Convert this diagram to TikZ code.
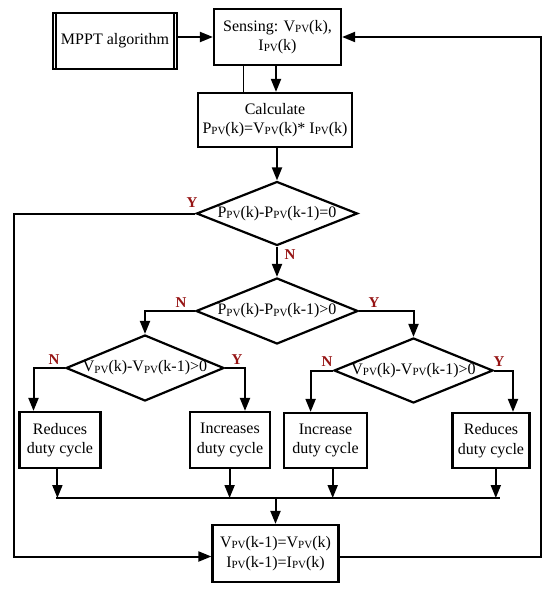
\documentclass[tikz,border=0pt]{standalone}
\usepackage{fontspec}
\setmainfont{Liberation Serif}
\usetikzlibrary{shapes.geometric,arrows.meta}
\definecolor{labred}{RGB}{150,20,20}
\newcommand{\pv}{\raisebox{-1.2pt}{\fontsize{11}{11}\selectfont PV}}
\begin{document}
\begin{tikzpicture}[x=1pt,y=-1pt, line width=2pt,
  box/.style={draw, rectangle, line width=2.2pt, inner sep=0pt, align=center, font=\fontsize{16}{19.5}\selectfont},
  dia/.style={draw, diamond, line width=2.2pt, inner sep=0pt, font=\fontsize{16}{19.5}\selectfont},
  arr/.style={-{Triangle[length=13pt,width=10pt]}},
  thinline/.style={line width=0.9pt},
  lab/.style={text=labred, font=\bfseries\fontsize{15}{15}\selectfont, inner sep=0pt}]
\useasboundingbox (0,0) rectangle (550,591);

% nodes
\node[box, minimum width=124pt, minimum height=56pt] (mppt) at (115,41) {MPPT algorithm};
\draw ([xshift=4pt]mppt.north west) -- ([xshift=4pt]mppt.south west);
\draw ([xshift=-4pt]mppt.north east) -- ([xshift=-4pt]mppt.south east);

\node[box, minimum width=127pt, minimum height=56pt] (sens) at (277.5,37) {Sensing: V\pv(k),\\I\pv(k)};
\node[box, minimum width=154pt, minimum height=54pt] (calc) at (275,120) {Calculate\\P\pv(k)=V\pv(k)* I\pv(k)};

\node[dia, minimum width=161pt, minimum height=64pt] (d1) at (277,213.5) {\makebox[0pt]{P\pv(k)-P\pv(k-1)=0}};
\node[dia, minimum width=162pt, minimum height=66pt] (d2) at (277,311) {\makebox[0pt]{P\pv(k)-P\pv(k-1)>0}};
\node[dia, minimum width=158pt, minimum height=66pt] (d3) at (145,368) {\makebox[0pt]{V\pv(k)-V\pv(k-1)>0}};
\node[dia, minimum width=159pt, minimum height=65pt] (d4) at (413.5,370.5) {\makebox[0pt]{V\pv(k)-V\pv(k-1)>0}};

\node[box, minimum width=81pt, minimum height=56pt] (b1) at (60,440) {Reduces\\duty cycle};
\node[box, minimum width=80pt, minimum height=56pt] (b2) at (230,440) {Increases\\duty cycle};
\node[box, minimum width=82.5pt, minimum height=55pt] (b3) at (325.5,440.5) {Increase\\duty cycle};
\node[box, minimum width=77pt, minimum height=55pt] (b4) at (491,440.5) {Reduces\\duty cycle};

\node[box, minimum width=126pt, minimum height=57pt] (last) at (275.5,553.5) {V\pv(k-1)=V\pv(k)\\I\pv(k-1)=I\pv(k)};

% labels
\node[lab] (y1) at (192,203) {Y};
\node[lab] (n1) at (290,255) {N};
\node[lab] (n2) at (181,303) {N};
\node[lab] (y2) at (374,303) {Y};
\node[lab] (n3) at (54,360) {N};
\node[lab] (y3) at (237,360) {Y};
\node[lab] (n4) at (327,362) {N};
\node[lab] (y4) at (499,362) {Y};

% helper coordinates
\coordinate (axis) at (276,0);
\coordinate (thin) at (243,0);
\coordinate (lft) at (14,0);
\coordinate (rgt) at (541,0);
\coordinate (c1) at (33.5,0);
\coordinate (c2) at (245,0);
\coordinate (c3) at (310.6,0);
\coordinate (c4) at (513,0);
\coordinate (busL) at (56,498);
\coordinate (busR) at (499.5,498);
\coordinate (e1) at (57.4,0);
\coordinate (e2) at (229.6,0);
\coordinate (e3) at (332.7,0);
\coordinate (e4) at (495.8,0);
\coordinate (lin) at ([yshift=-3pt]last.west);
\coordinate (rin) at ([yshift=-3pt]last.east);

% connectors
\draw[arr] (mppt.east |- sens.west) -- (sens.west);
\draw[arr] (sens.south -| axis) -- (calc.north -| axis);
\draw[thinline] (sens.south -| thin) -- (calc.north -| thin);
\draw[arr] (calc.south -| d1.north) -- (d1.north);
\draw[arr] (d1.south) -- (d2.north);
\draw[arr] (d1.west) -- (d1.west -| lft) |- (lin);
\draw[arr] (rin) -- (rin -| rgt) |- (sens.east);

\draw[arr] (d2.west) -| (d3.north);
\draw[arr] (d2.east) -| (d4.north);
\draw[arr] (d3.west) -| (b1.north -| c1);
\draw[arr] (d3.east) -| (b2.north -| c2);
\draw[arr] (d4.west) -| (b3.north -| c3);
\draw[arr] (d4.east) -| (b4.north -| c4);

\draw[arr] (b1.south -| e1) -- (busL -| e1);
\draw[arr] (b2.south -| e2) -- (busL -| e2);
\draw[arr] (b3.south -| e3) -- (busL -| e3);
\draw[arr] (b4.south -| e4) -- (busL -| e4);
\draw (busL) -- (busR);
\draw[arr] (busL -| last.north) -- (last.north);
\end{tikzpicture}
\end{document}
